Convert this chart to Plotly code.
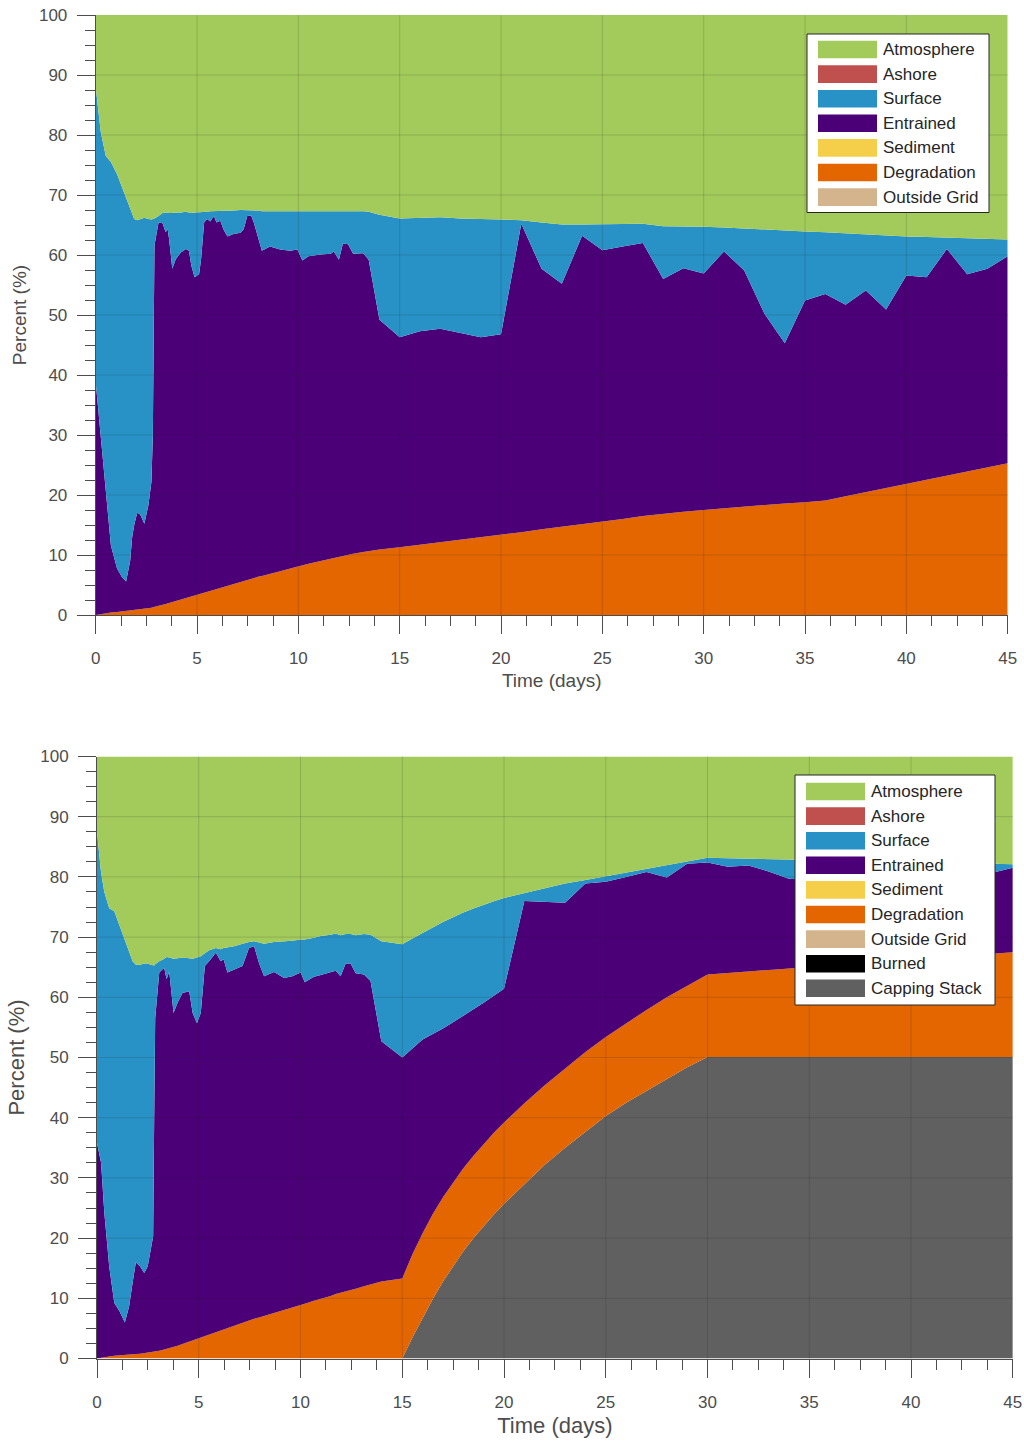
import numpy as np
import plotly.graph_objects as go

W, H = 1024, 1441

# ---------------------------------------------------------------------------
# Scenario 1 (no capping stack): time in days and the upper edge (%) of each
# stacked band (cumulative from the bottom of the stack).
# ---------------------------------------------------------------------------
t1 = [0, 0.25, 0.5, 0.75, 1.05, 1.3, 1.5, 1.7, 1.8, 1.9,
      2.05, 2.2, 2.4, 2.6, 2.75, 2.82, 2.9, 3.1, 3.3, 3.45,
      3.55, 3.62, 3.78, 3.95, 4.2, 4.45, 4.6, 4.72, 4.88, 5.1,
      5.2, 5.35, 5.5, 5.65, 5.83, 5.96, 6.15, 6.3, 6.5, 6.8,
      7.15, 7.3, 7.48, 7.67, 7.8, 8.05, 8.2, 8.6, 9.1, 9.6,
      9.95, 10.2, 10.5, 11.1, 11.6, 11.75, 12.0, 12.2, 12.45, 12.7,
      13.2, 13.47, 14, 15, 16, 17, 18, 19, 20, 21,
      22, 23, 24, 25, 26, 27, 28, 29, 30, 31,
      32, 33, 34, 35, 36, 37, 38, 39, 40, 41,
      42, 43, 44, 45]

surface_top1 = [88.0, 80.5, 76.5, 75.5, 73.5, 71.3, 69.5, 67.7, 66.8, 66.0,
                65.8, 66.0, 66.2, 66.0, 65.9, 66.0, 66.1, 66.5, 67.0, 67.1,
                67.0, 67.0, 67.0, 67.1, 67.1, 67.2, 67.1, 67.0, 67.1, 67.1,
                67.2, 67.2, 67.2, 67.3, 67.3, 67.3, 67.4, 67.3, 67.4, 67.4,
                67.5, 67.5, 67.5, 67.4, 67.4, 67.4, 67.3, 67.3, 67.3, 67.3,
                67.3, 67.3, 67.3, 67.4, 67.4, 67.4, 67.4, 67.4, 67.3, 67.3,
                67.3, 67.2, 66.7, 66.1, 66.2, 66.3, 66.1, 66.0, 65.9, 65.8,
                65.4, 65.1, 65.1, 65.1, 65.1, 65.2, 64.8, 64.8, 64.7, 64.6,
                64.4, 64.3, 64.1, 63.9, 63.8, 63.6, 63.4, 63.2, 63.1, 63.0,
                62.9, 62.8, 62.7, 62.6]

entrained_top1 = [38.8, 29.3, 19.9, 11.6, 7.8, 6.3, 5.6, 9.0, 13.0, 15.0,
                  17.1, 16.7, 15.2, 18.3, 22.2, 30.0, 61.6, 65.4, 65.3, 63.8,
                  64.3, 62.7, 57.7, 59.3, 60.4, 61.0, 60.7, 58.2, 56.3, 56.8,
                  59.3, 65.4, 66.0, 65.6, 66.5, 65.4, 65.7, 64.3, 63.1, 63.5,
                  63.7, 64.3, 66.5, 66.6, 65.4, 62.7, 60.7, 61.4, 60.9, 60.7,
                  60.9, 59.1, 59.8, 60.1, 60.2, 60.6, 59.2, 61.9, 61.8, 60.2,
                  60.3, 59.2, 49.2, 46.3, 47.3, 47.7, 47.0, 46.3, 46.8, 65.2,
                  57.7, 55.2, 63.2, 60.8, 61.4, 62.0, 56.0, 57.8, 56.9, 60.6,
                  57.4, 50.2, 45.3, 52.4, 53.5, 51.7, 54.1, 50.9, 56.6, 56.3,
                  61.0, 56.8, 57.7, 59.8]

degradation_top1 = [0.0, 0.15, 0.3, 0.4, 0.5, 0.6, 0.65, 0.7, 0.75, 0.8,
                    0.85, 0.9, 1.0, 1.1, 1.2, 1.3, 1.35, 1.5, 1.7, 1.85,
                    1.95, 2.0, 2.2, 2.4, 2.65, 2.9, 3.0, 3.15, 3.3, 3.5,
                    3.6, 3.75, 3.9, 4.05, 4.2, 4.35, 4.55, 4.7, 4.9, 5.2,
                    5.6, 5.75, 5.95, 6.1, 6.2, 6.4, 6.5, 6.9, 7.3, 7.75,
                    8.1, 8.3, 8.55, 9.0, 9.4, 9.5, 9.7, 9.85, 10.0, 10.2,
                    10.5, 10.65, 10.9, 11.3, 11.7, 12.1, 12.5, 12.9, 13.3, 13.8,
                    14.3, 14.7, 15.2, 15.6, 16.0, 16.5, 16.9, 17.2, 17.5, 17.8,
                    18.1, 18.4, 18.6, 18.8, 19.1, 19.8, 20.5, 21.2, 21.9, 22.6,
                    23.3, 24.0, 24.7, 25.3]

# ---------------------------------------------------------------------------
# Scenario 2 (capping stack deployed from day 15)
# ---------------------------------------------------------------------------
t2 = [0, 0.2, 0.36, 0.6, 0.85, 1.1, 1.37, 1.58, 1.75, 1.91,
      2.12, 2.32, 2.49, 2.65, 2.76, 2.81, 2.86, 3.06, 3.3, 3.42,
      3.55, 3.76, 3.96, 4.2, 4.53, 4.7, 4.91, 5.1, 5.3, 5.51,
      5.84, 6.08, 6.22, 6.41, 6.74, 7.15, 7.47, 7.72, 7.96, 8.21,
      8.7, 9.19, 9.6, 10.01, 10.21, 10.66, 11.0, 11.48, 11.73, 11.97,
      12.22, 12.46, 12.71, 13.12, 13.44, 13.97,
      15, 15.5, 16, 16.5, 17, 17.5, 18, 18.5, 19, 19.5, 20,
      21, 22, 23, 24, 25, 26, 27, 28, 29, 30,
      31, 32, 33, 34, 35, 36, 37, 38, 39, 40,
      41, 42, 43, 44, 45]

surface_top2 = [87.5, 80.7, 77.5, 74.8, 74.3, 72.0, 69.5, 67.5, 66.0, 65.4,
                65.4, 65.6, 65.6, 65.4, 65.3, 65.3, 65.5, 66.0, 66.4, 66.7,
                66.6, 66.4, 66.5, 66.6, 66.5, 66.4, 66.6, 66.8, 67.3, 67.8,
                68.2, 68.0, 68.2, 68.3, 68.5, 68.9, 69.2, 69.3, 69.1, 68.9,
                69.2, 69.3, 69.4, 69.6, 69.6, 69.9, 70.2, 70.4, 70.6, 70.3,
                70.5, 70.5, 70.3, 70.5, 70.4, 69.3,
                68.8, 69.75, 70.7, 71.6, 72.5, 73.3, 74.1, 74.75, 75.4, 75.95, 76.5,
                77.3, 78.2, 78.9, 79.5, 80.1, 80.7, 81.4, 82.0, 82.6, 83.2,
                83.1, 83.0, 83.0, 82.9, 82.8, 82.8, 82.7, 82.6, 82.5, 82.5,
                82.4, 82.3, 82.2, 82.2, 82.1]

entrained_top2 = [35.8, 32.5, 24.2, 15.3, 9.2, 7.9, 6.0, 8.7, 12.6, 16.0,
                  15.3, 14.2, 15.3, 18.7, 20.3, 40.0, 56.5, 64.1, 64.9, 63.0,
                  64.3, 57.4, 59.1, 60.7, 61.0, 57.4, 55.7, 57.4, 65.2, 66.0,
                  67.4, 66.0, 66.3, 64.1, 64.6, 65.2, 68.2, 68.5, 65.7, 63.5,
                  64.2, 63.2, 63.5, 64.1, 62.5, 63.4, 63.7, 64.1, 64.4, 63.5,
                  65.6, 65.6, 64.0, 63.8, 62.7, 52.7,
                  50.0, 51.5, 53.0, 53.9, 54.8, 55.85, 56.9, 58.0, 59.1, 60.25, 61.4,
                  76.0, 75.8, 75.7, 78.9, 79.2, 80.0, 80.8, 79.9, 82.2, 82.4,
                  81.7, 81.9, 80.9, 79.7, 79.5, 79.8, 80.0, 80.2, 80.3, 80.4,
                  80.5, 80.6, 80.6, 80.7, 81.5]

degradation_top2 = [0.0, 0.15, 0.25, 0.35, 0.45, 0.55, 0.6, 0.65, 0.7, 0.75,
                    0.8, 0.9, 0.95, 1.0, 1.05, 1.1, 1.1, 1.3, 1.5, 1.6,
                    1.7, 1.9, 2.1, 2.4, 2.8, 3.0, 3.25, 3.45, 3.7, 3.95,
                    4.35, 4.65, 4.85, 5.05, 5.45, 5.95, 6.3, 6.6, 6.8, 7.05,
                    7.5, 8.0, 8.4, 8.9, 9.1, 9.6, 9.9, 10.4, 10.7, 10.9,
                    11.15, 11.4, 11.6, 12.0, 12.3, 12.8,
                    13.3, 17.3, 20.8, 24.0, 26.8, 29.3, 31.6, 33.7, 35.6, 37.5, 39.2,
                    42.4, 45.4, 48.2, 50.9, 53.4, 55.7, 57.9, 60.0, 61.9, 63.8,
                    64.05, 64.3, 64.55, 64.8, 65.05, 65.3, 65.55, 65.8, 66.05, 66.3,
                    66.55, 66.8, 67.0, 67.25, 67.5]

capping_top2 = [0.0] * 56 + [
    0.0, 3.5, 6.8, 9.9, 12.8, 15.4, 17.8, 20.0, 22.0, 23.9, 25.7,
    29.0, 32.2, 35.0, 37.7, 40.3, 42.5, 44.5, 46.5, 48.4, 50.1,
    50.1, 50.1, 50.1, 50.1, 50.1, 50.1, 50.1, 50.1, 50.1, 50.1,
    50.1, 50.1, 50.1, 50.1, 50.1]

for arr in (surface_top1, entrained_top1, degradation_top1):
    assert len(arr) == len(t1)
for arr in (surface_top2, entrained_top2, degradation_top2, capping_top2):
    assert len(arr) == len(t2)

# Fate categories
COLORS = {
    "Atmosphere": "#A3CB5B",
    "Ashore": "#C0504D",
    "Surface": "#2892C7",
    "Entrained": "#4B0078",
    "Sediment": "#F5CF4A",
    "Degradation": "#E36600",
    "Outside Grid": "#D4B48C",
    "Burned": "#000000",
    "Capping Stack": "#606060",
}
LEGEND1 = ["Atmosphere", "Ashore", "Surface", "Entrained", "Sediment",
           "Degradation", "Outside Grid"]
LEGEND2 = LEGEND1 + ["Burned", "Capping Stack"]


def band_table(t, surface_top, entrained_top, degradation_top, capping_top=None):
    """Split the cumulative edges into the thickness of each band (bottom first)."""
    s = np.asarray(surface_top, float)
    e = np.asarray(entrained_top, float)
    d = np.asarray(degradation_top, float)
    none = np.zeros(len(t))
    table = []
    if capping_top is not None:
        c = np.asarray(capping_top, float)
        table += [("Capping Stack", c), ("Burned", none)]
    else:
        c = none
    table += [
        ("Outside Grid", none),
        ("Degradation", d - c),
        ("Sediment", none),
        ("Entrained", e - d),
        ("Surface", s - e),
        ("Ashore", none),
        ("Atmosphere", 100.0 - s),
    ]
    return table


fig = go.Figure()

panels = [
    ("x", "y", "top", t1, band_table(t1, surface_top1, entrained_top1, degradation_top1)),
    ("x2", "y2", "bottom", t2, band_table(t2, surface_top2, entrained_top2,
                                           degradation_top2, capping_top2)),
]
for xa, ya, grp, t, table in panels:
    for name, vals in table:
        fig.add_trace(go.Scatter(
            x=t, y=vals, name=name, stackgroup=grp, mode="lines",
            line=dict(width=0, color=COLORS[name]), fillcolor=COLORS[name],
            xaxis=xa, yaxis=ya, showlegend=False,
            hovertemplate=name + ": %{y:.1f}%<extra></extra>",
        ))

FONT = "Liberation Sans, Arial, Helvetica, sans-serif"
AXC = "#4d4d4d"


def px(x):
    return x / W


def py(y):
    return 1 - y / H


def axis(kind, dom, title, title_size, title_standoff):
    base = dict(
        domain=dom, showline=True, linecolor=AXC, linewidth=1, mirror=False,
        ticks="outside", ticklen=18, tickwidth=1, tickcolor=AXC,
        showgrid=False, zeroline=False, automargin=False,
        tickfont=dict(family=FONT, size=17, color=AXC),
        title=dict(text=title, standoff=title_standoff,
                   font=dict(family=FONT, size=title_size, color=AXC)),
    )
    if kind == "x":
        base.update(range=[0, 45], tickmode="linear", tick0=0, dtick=5,
                    ticklabelstandoff=10,
                    minor=dict(tick0=0, dtick=1.25, ticks="outside", ticklen=10,
                               tickwidth=1, tickcolor=AXC, showgrid=False))
    else:
        base.update(range=[0, 100], tickmode="linear", tick0=0, dtick=10,
                    ticklabelstandoff=6,
                    minor=dict(tick0=0, dtick=2.5, ticks="outside", ticklen=10,
                               tickwidth=1, tickcolor=AXC, showgrid=False))
    return base


# plot-area pixel boxes: (left, right, top, bottom)
BOX1 = (95.7, 1007.7, 15.0, 615.0)
BOX2 = (97.0, 1012.8, 756.5, 1358.5)

fig.update_layout(
    width=W, height=H, template="none",
    margin=dict(l=0, r=0, t=0, b=0),
    paper_bgcolor="white", plot_bgcolor="white",
    font=dict(family=FONT, color=AXC),
    xaxis=dict(axis("x", [px(BOX1[0]), px(BOX1[1])], "Time (days)", 19, 6), anchor="y"),
    yaxis=dict(axis("y", [py(BOX1[3]), py(BOX1[2])], "Percent (%)", 19, 7), anchor="x"),
    xaxis2=dict(axis("x", [px(BOX2[0]), px(BOX2[1])], "Time (days)", 22, 6), anchor="y2"),
    yaxis2=dict(axis("y", [py(BOX2[3]), py(BOX2[2])], "Percent (%)", 22, 9), anchor="x2"),
    showlegend=False,
)

shapes = []
annotations = []

# light grid drawn over the filled bands
GRID = "rgba(38,38,38,0.17)"
for xa, ya in (("x", "y"), ("x2", "y2")):
    for gx in range(5, 45, 5):
        shapes.append(dict(type="line", xref=xa, yref=ya + " domain", x0=gx, x1=gx,
                           y0=0, y1=1, line=dict(color=GRID, width=1), layer="above"))
    for gy in range(10, 100, 10):
        shapes.append(dict(type="line", xref=xa + " domain", yref=ya, x0=0, x1=1,
                           y0=gy, y1=gy, line=dict(color=GRID, width=1), layer="above"))


def add_legend(entries, box, sw_x, text_x, row0, pitch, sw_h):
    x0, x1, y0, y1 = box
    shapes.append(dict(type="rect", xref="paper", yref="paper",
                       x0=px(x0), x1=px(x1), y0=py(y1), y1=py(y0),
                       fillcolor="white", line=dict(color="#262626", width=1),
                       layer="above"))
    for i, name in enumerate(entries):
        cy = row0 + i * pitch
        shapes.append(dict(type="rect", xref="paper", yref="paper",
                           x0=px(sw_x[0]), x1=px(sw_x[1]),
                           y0=py(cy + sw_h / 2), y1=py(cy - sw_h / 2),
                           fillcolor=COLORS[name], line=dict(width=0), layer="above"))
        annotations.append(dict(xref="paper", yref="paper", x=px(text_x), y=py(cy),
                                xanchor="left", yanchor="middle", showarrow=False,
                                text=name, font=dict(family=FONT, size=17, color="#262626")))


add_legend(LEGEND1, (807, 989, 34, 212.5), (818, 877), 881, 49.5, 24.6, 17.6)
add_legend(LEGEND2, (795, 995, 775, 1005), (806, 865), 869, 791.5, 24.6, 17.6)

fig.update_layout(shapes=shapes, annotations=annotations)

fig.write_html("out.html", config={"displayModeBar": False})
